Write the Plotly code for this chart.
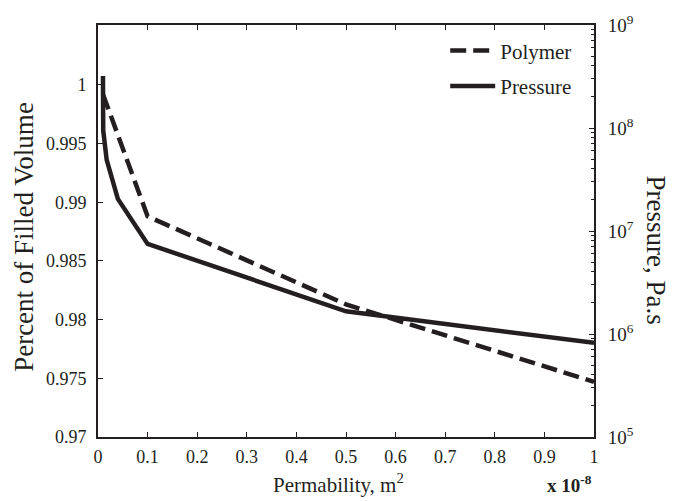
import plotly.graph_objects as go

# Data (x in units of 1e-8 m^2)
polymer_x = [0.01, 0.1, 0.5, 1.0]
polymer_y = [0.9992, 0.9888, 0.9813, 0.9747]

pressure_x = [0.01, 0.0105, 0.0175, 0.04, 0.1, 0.5, 1.0]
pressure_y = [3.2e8, 9.5e7, 4.9e7, 2.05e7, 7.5e6, 1.66e6, 8.2e5]

x_ticks = [0, 0.1, 0.2, 0.3, 0.4, 0.5, 0.6, 0.7, 0.8, 0.9, 1]
x_ticktext = ["0", "0.1", "0.2", "0.3", "0.4", "0.5", "0.6", "0.7", "0.8", "0.9", "1"]
y_ticks = [0.97, 0.975, 0.98, 0.985, 0.99, 0.995, 1.0]
y_ticktext = ["0.97", "0.975", "0.98", "0.985", "0.99", "0.995", "1"]
y2_ticks = [1e5, 1e6, 1e7, 1e8, 1e9]
y2_ticktext = ["10<sup>5</sup>", "10<sup>6</sup>", "10<sup>7</sup>", "10<sup>8</sup>", "10<sup>9</sup>"]

FONT = "Liberation Serif"
INK = "#231f20"

y2_minor = [m * 10 ** e for e in range(5, 9) for m in range(2, 10)]

fig = go.Figure()
fig.add_trace(go.Scatter(
    x=polymer_x, y=polymer_y, mode="lines", name="Polymer",
    line=dict(color=INK, width=4.5, dash="16px,7px"),
    yaxis="y", legend="legend", showlegend=True,
))
fig.add_trace(go.Scatter(
    x=pressure_x, y=pressure_y, mode="lines", name="Pressure",
    line=dict(color=INK, width=4.5),
    yaxis="y2", legend="legend2", showlegend=True,
))

fig.update_layout(
    width=680, height=501,
    margin=dict(l=98, r=86, t=21, b=64),
    plot_bgcolor="white", paper_bgcolor="white",
    showlegend=True,
    font=dict(family=FONT, size=18, color=INK),
    xaxis=dict(
        range=[0, 1], tickvals=x_ticks, ticktext=x_ticktext,
        ticks="inside", ticklen=5, tickwidth=1, tickcolor=INK,
        showline=True, linecolor=INK, linewidth=2, mirror="ticks",
        showgrid=False, zeroline=False, ticklabelstandoff=2,
        tickfont=dict(family=FONT, size=18, color=INK),
    ),
    yaxis=dict(
        range=[0.97, 1.0051], tickvals=y_ticks, ticktext=y_ticktext,
        ticks="inside", ticklen=5, tickwidth=1, tickcolor=INK,
        showline=True, linecolor=INK, linewidth=2,
        showgrid=False, zeroline=False, ticklabelstandoff=6,
        tickfont=dict(family=FONT, size=18, color=INK),
    ),
    yaxis2=dict(
        type="log", range=[5, 9], overlaying="y", side="right",
        tickvals=y2_ticks, ticktext=y2_ticktext,
        ticks="inside", ticklen=5, tickwidth=1, tickcolor=INK,
        minor=dict(tickvals=y2_minor, ticks="inside", ticklen=3, tickwidth=1, tickcolor=INK),
        showline=True, linecolor=INK, linewidth=2,
        showgrid=False, zeroline=False, ticklabelstandoff=8,
        tickfont=dict(family=FONT, size=19, color=INK),
    ),
    legend=dict(
        x=0.70, y=0.9375, xanchor="left", yanchor="middle",
        bgcolor="rgba(0,0,0,0)", borderwidth=0, itemwidth=45,
        font=dict(family=FONT, size=21, color=INK),
    ),
    legend2=dict(
        x=0.70, y=0.851, xanchor="left", yanchor="middle",
        bgcolor="rgba(0,0,0,0)", borderwidth=0, itemwidth=45,
        font=dict(family=FONT, size=21, color=INK),
    ),
    annotations=[
        dict(text="Permability, m<sup>2</sup>", xref="paper", yref="paper",
             x=0.484, y=-0.113, xanchor="center", yanchor="middle", showarrow=False,
             font=dict(family=FONT, size=21, color=INK)),
        dict(text="Percent of Filled Volume", textangle=-90, xref="paper", yref="paper",
             x=-0.149, y=0.486, xanchor="center", yanchor="middle", showarrow=False,
             font=dict(family=FONT, size=27, color=INK)),
        dict(text="Pressure, Pa.s", textangle=90, xref="paper", yref="paper",
             x=1.125, y=0.455, xanchor="center", yanchor="middle", showarrow=False,
             font=dict(family=FONT, size=27, color=INK)),
        dict(text="<b>x 10<sup>-8</sup></b>", xref="paper", yref="paper",
             x=1.0, y=-0.115, xanchor="right", yanchor="middle", showarrow=False,
             font=dict(family=FONT, size=19, color=INK)),
    ],
)

fig.write_html("out.html")
